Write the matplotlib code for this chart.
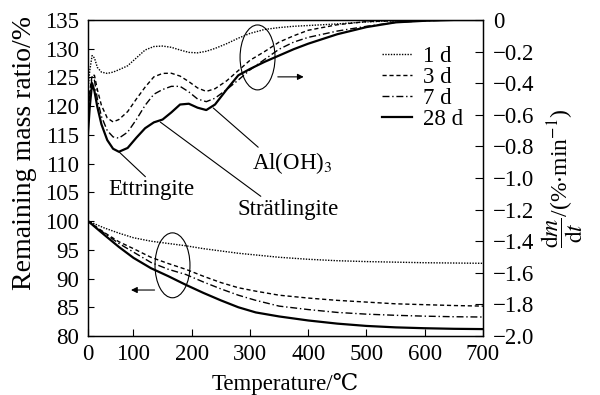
import matplotlib.pyplot as plt
from matplotlib.patches import Ellipse

plt.rcParams['font.family'] = ['Liberation Serif', 'DejaVu Serif']
plt.rcParams['mathtext.fontset'] = 'stix'
plt.rcParams['axes.unicode_minus'] = True

# curing ages
ages = ['1 d', '3 d', '7 d', '28 d']

# DTG curves (right axis), %/min
dtg_temp = [22, 25, 29, 33, 38, 45, 55, 65, 75, 90, 105, 120, 135, 150, 165, 180, 195,
            210, 225, 240, 260, 280, 300, 325, 350, 375, 400, 450, 500, 550, 600, 650, 700]
dtg_1d = [-0.44, -0.32, -0.225, -0.24, -0.30, -0.33, -0.338, -0.33, -0.315, -0.29, -0.24,
          -0.19, -0.168, -0.165, -0.173, -0.19, -0.205, -0.208, -0.198, -0.18, -0.15,
          -0.115, -0.085, -0.06, -0.048, -0.04, -0.035, -0.025, -0.012, -0.005, 0, 0, 0]
dtg_3d = [-0.56, -0.45, -0.35, -0.35, -0.44, -0.54, -0.62, -0.645, -0.63, -0.58, -0.50,
          -0.425, -0.36, -0.338, -0.337, -0.355, -0.39, -0.43, -0.452, -0.435, -0.385,
          -0.32, -0.255, -0.20, -0.14, -0.10, -0.065, -0.03, -0.01, -0.005, 0, 0, 0]
dtg_7d = [-0.60, -0.48, -0.36, -0.38, -0.50, -0.61, -0.70, -0.74, -0.748, -0.71, -0.63,
          -0.54, -0.47, -0.44, -0.42, -0.42, -0.455, -0.50, -0.517, -0.495, -0.44,
          -0.38, -0.316, -0.25, -0.185, -0.14, -0.11, -0.07, -0.04, -0.015, -0.005, 0, 0]
dtg_28d = [-0.715, -0.55, -0.40, -0.45, -0.55, -0.66, -0.76, -0.815, -0.834, -0.81, -0.745,
           -0.685, -0.648, -0.63, -0.585, -0.535, -0.53, -0.555, -0.57, -0.535, -0.44,
           -0.35, -0.31, -0.265, -0.225, -0.185, -0.15, -0.09, -0.045, -0.015, -0.005, 0, 0]

# TG curves (left axis), remaining mass %
tg_temp = [22, 50, 75, 100, 130, 160, 190, 220, 250, 280, 310, 350, 400, 450, 500, 550, 600, 650, 700]
tg_1d = [100, 98.8, 97.9, 97.1, 96.5, 96.1, 95.7, 95.2, 94.8, 94.4, 94.1, 93.7, 93.35,
         93.1, 92.95, 92.85, 92.75, 92.7, 92.65]
tg_3d = [100, 98.0, 96.4, 95.2, 93.7, 92.6, 91.6, 90.4, 89.3, 88.4, 87.8, 87.1, 86.6,
         86.2, 85.9, 85.6, 85.45, 85.3, 85.2]
tg_7d = [100, 97.9, 96.1, 94.6, 92.8, 91.6, 90.7, 89.4, 88.2, 87.1, 86.2, 85.2, 84.6,
         84.1, 83.8, 83.6, 83.45, 83.35, 83.3]
tg_28d = [100, 97.6, 95.5, 93.6, 91.8, 90.4, 88.9, 87.5, 86.2, 85.0, 84.1, 83.4, 82.7,
          82.15, 81.75, 81.5, 81.35, 81.25, 81.2]

x_ticks = [22, 100, 200, 300, 400, 500, 600, 700]
x_labels = ['0', '100', '200', '300', '400', '500', '600', '700']
left_ticks = list(range(80, 136, 5))
right_ticks = [-2.0, -1.8, -1.6, -1.4, -1.2, -1.0, -0.8, -0.6, -0.4, -0.2, 0]

styles = [dict(ls=(0, (1, 1)), lw=1.0), dict(ls=(0, (3, 2)), lw=1.0),
          dict(ls=(0, (5, 2, 1, 2)), lw=1.0), dict(ls='-', lw=1.6)]

fs = 16.5

fig = plt.figure(figsize=(6, 3.95), dpi=100)
ax = fig.add_axes([0.1467, 0.1494, 0.6583, 0.8])
ax2 = ax.twinx()

lines = []
for tg, st, lab in zip([tg_1d, tg_3d, tg_7d, tg_28d], styles, ages):
    l, = ax.plot(tg_temp, tg, color='black', label=lab, **st)
    lines.append(l)
for dtg, st in zip([dtg_1d, dtg_3d, dtg_7d, dtg_28d], styles):
    ax2.plot(dtg_temp, dtg, color='black', **st)

ax.set_xlim(22, 700)
ax.set_ylim(80, 135)
ax2.set_ylim(-2.0, 0)
ax.set_xticks(x_ticks)
ax.set_xticklabels(x_labels)
ax.set_yticks(left_ticks)
ax2.set_yticks(right_ticks)
ax2.set_yticklabels(['0' if v == 0 else '\u2212%.1f' % abs(v) for v in right_ticks])

ax.tick_params(axis='x', direction='in', length=5, labelsize=fs, width=0.8, pad=5.5)
ax.tick_params(axis='y', direction='in', length=4, labelsize=fs, width=0.8, pad=6.5)
ax2.tick_params(direction='in', length=6, labelsize=fs, width=0.8, pad=7)
for a in (ax, ax2):
    for s in a.spines.values():
        s.set_linewidth(0.9)

ax.set_xlabel('Temperature/\u2103', fontsize=fs, labelpad=6)
ax.set_ylabel('Remaining mass ratio/%', fontsize=20)
ax.yaxis.set_label_coords(-0.13, 0.58)
ax2.set_ylabel(r'$\dfrac{\mathrm{d}m}{\mathrm{d}t}$/(%$\cdot$min$^{-1}$)', fontsize=17,
               rotation=90, labelpad=4)

ax2.legend(handles=lines, loc='upper right', bbox_to_anchor=(0.95, 0.919), frameon=False,
           fontsize=fs, handlelength=1.3, handletextpad=0.48, labelspacing=0.0,
           borderpad=0, borderaxespad=0)

# ellipses + arrows
ax.add_patch(Ellipse((167, 92.3), 60, 11.3, fill=False, lw=0.8, color='black'))
ax.annotate('', xy=(91, 88.0), xytext=(141, 88.0),
            arrowprops=dict(arrowstyle='-|>', lw=0.8, color='black', mutation_scale=9))
ax2.add_patch(Ellipse((313, -0.237), 60, 0.411, fill=False, lw=0.8, color='black'))
ax2.annotate('', xy=(397, -0.36), xytext=(343, -0.36),
             arrowprops=dict(arrowstyle='-|>', lw=0.8, color='black', mutation_scale=9))

# peak labels
lead = dict(arrowstyle='-', lw=0.8, color='black', shrinkA=0, shrinkB=0)
ax2.annotate('Ettringite', xy=(75, -0.834), xytext=(130, -1.076), fontsize=fs,
             ha='center', va='center', arrowprops=dict(relpos=(0.47, 1.0), **lead))
ax2.annotate('Strätlingite', xy=(146, -0.646), xytext=(365, -1.2), fontsize=fs,
             ha='center', va='center', arrowprops=dict(relpos=(0.27, 1.0), **lead))
ax2.annotate('Al(OH)$_3$', xy=(237, -0.557), xytext=(372, -0.905), fontsize=fs,
             ha='center', va='center', arrowprops=dict(relpos=(0.12, 1.0), **lead))

fig.savefig('out.png', dpi=100)
